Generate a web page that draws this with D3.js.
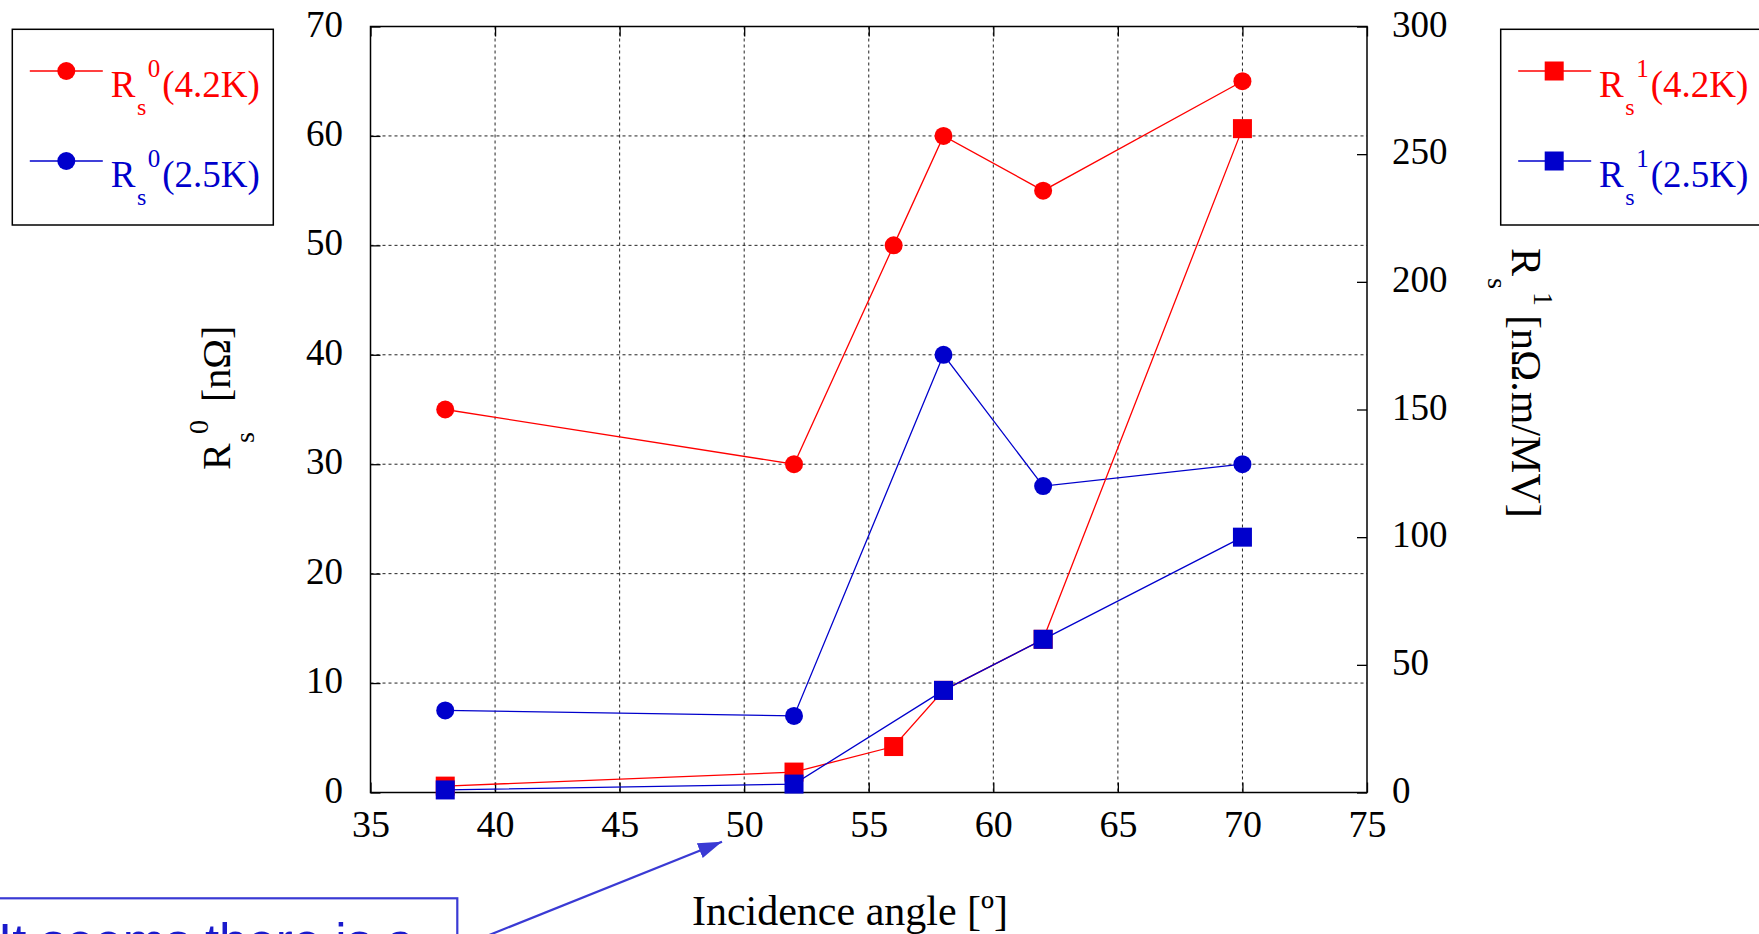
<!DOCTYPE html>
<html>
<head>
<meta charset="utf-8">
<script src="https://cdn.jsdelivr.net/npm/d3@7"></script>
<style>
  body { margin: 0; background: #fff; overflow: hidden; }
  svg { display: block; }
</style>
</head>
<body>
<script>
const width = 1759;
const height = 934;

// data
const angles_42 = [38, 52, 56, 58, 62, 70];
const angles_25 = [38, 52, 58, 62, 70];
const rs0_42 = [35, 30, 50, 60, 55, 65];
const rs0_25 = [7.5, 7, 40, 28, 30];
const rs1_42 = [2.5, 8, 18, 40, 60, 260];
const rs1_25 = [1, 3.3, 40, 60, 100];

const xTicks = [35, 40, 45, 50, 55, 60, 65, 70, 75];
const yLeftTicks = [0, 10, 20, 30, 40, 50, 60, 70];
const yRightTicks = [0, 50, 100, 150, 200, 250, 300];

const RED = '#ff0000';
const BLUE = '#0000cc';
const serif = '"Liberation Serif", "Times New Roman", serif';

const plotLeft = 370.5, plotRight = 1367, plotTop = 26.5, plotBottom = 792.5;

const x = d3.scaleLinear().domain([35, 75]).range([plotLeft, plotRight]);
const yL = d3.scaleLinear().domain([0, 70]).range([plotBottom, plotTop]);
const yR = d3.scaleLinear().domain([0, 300]).range([plotBottom, plotTop]);

const svg = d3.select('body')
    .append('svg')
    .attr('width', width)
    .attr('height', height)
    .style('font-family', serif);

// grid
const grid = svg.append('g')
    .attr('stroke', '#222')
    .attr('stroke-width', 1)
    .attr('stroke-dasharray', '3,3');

grid.selectAll('line.v')
    .data(xTicks.slice(1, -1))
    .join('line')
    .attr('class', 'v')
    .attr('x1', d => x(d)).attr('x2', d => x(d))
    .attr('y1', plotTop).attr('y2', plotBottom);

grid.selectAll('line.h')
    .data(yLeftTicks.slice(1, -1))
    .join('line')
    .attr('class', 'h')
    .attr('x1', plotLeft).attr('x2', plotRight)
    .attr('y1', d => yL(d)).attr('y2', d => yL(d));

// axes
function styleAxis(g, size) {
    g.select('.domain').remove();
    g.selectAll('.tick line').attr('stroke', '#000').attr('stroke-width', 1.3);
    g.selectAll('.tick text')
        .attr('fill', '#000')
        .style('font-family', serif)
        .style('font-size', size + 'px');
}

svg.append('g')
    .attr('transform', `translate(0,${plotBottom})`)
    .call(d3.axisBottom(x).tickValues(xTicks).tickSizeInner(-10).tickSizeOuter(0).tickPadding(17.5))
    .call(g => styleAxis(g, 38));

svg.append('g')
    .attr('transform', `translate(0,${plotTop})`)
    .call(d3.axisTop(x).tickValues(xTicks).tickSizeInner(-10).tickSizeOuter(0).tickFormat(''))
    .call(g => styleAxis(g, 38));

svg.append('g')
    .attr('transform', `translate(${plotLeft},0)`)
    .call(d3.axisLeft(yL).tickValues(yLeftTicks).tickSizeInner(-10).tickSizeOuter(0).tickPadding(27.5))
    .call(g => styleAxis(g, 37))
    .selectAll('.tick text').attr('dy', '0.26em');

svg.append('g')
    .attr('transform', `translate(${plotRight},0)`)
    .call(d3.axisRight(yR).tickValues(yRightTicks).tickSizeInner(-10).tickSizeOuter(0).tickPadding(25))
    .call(g => styleAxis(g, 37))
    .selectAll('.tick text').attr('dy', '0.26em');

// frame
svg.append('rect')
    .attr('x', plotLeft).attr('y', plotTop)
    .attr('width', plotRight - plotLeft).attr('height', plotBottom - plotTop)
    .attr('fill', 'none')
    .attr('stroke', '#000')
    .attr('stroke-width', 1.5);

// series
function drawSeries(xs, ys, yScale, color, shape) {
    const pts = xs.map((d, i) => [x(d), yScale(ys[i])]);
    svg.append('path')
        .attr('d', d3.line()(pts))
        .attr('fill', 'none')
        .attr('stroke', color)
        .attr('stroke-width', 1.3);
    const g = svg.append('g').attr('fill', color);
    if (shape === 'circle') {
        g.selectAll('circle').data(pts).join('circle')
            .attr('cx', d => d[0]).attr('cy', d => d[1]).attr('r', 9);
    } else {
        g.selectAll('rect').data(pts).join('rect')
            .attr('x', d => d[0] - 9.5).attr('y', d => d[1] - 9.5)
            .attr('width', 19).attr('height', 19);
    }
}

drawSeries(angles_42, rs0_42, yL, RED, 'circle');
drawSeries(angles_25, rs0_25, yL, BLUE, 'circle');
drawSeries(angles_42, rs1_42, yR, RED, 'square');
drawSeries(angles_25, rs1_25, yR, BLUE, 'square');

// legends
function legend(bx, bw, entries) {
    const g = svg.append('g');
    g.append('rect')
        .attr('x', bx).attr('y', 29.3)
        .attr('width', bw).attr('height', 195.7)
        .attr('fill', '#fff')
        .attr('stroke', '#000')
        .attr('stroke-width', 1.5);
    entries.forEach((e, i) => {
        const cy = 71 + i * 90;
        g.append('line')
            .attr('x1', bx + 17.5).attr('x2', bx + 90.5)
            .attr('y1', cy).attr('y2', cy)
            .attr('stroke', e.color).attr('stroke-width', 1.3);
        if (e.shape === 'circle') {
            g.append('circle').attr('cx', bx + 54).attr('cy', cy).attr('r', 9).attr('fill', e.color);
        } else {
            g.append('rect').attr('x', bx + 53.5 - 9.5).attr('y', cy - 9.5)
                .attr('width', 19).attr('height', 19).attr('fill', e.color);
        }
        const t = g.append('text')
            .attr('x', bx + 98.4).attr('y', cy + 25.7)
            .attr('fill', e.color)
            .style('font-size', '37px');
        t.append('tspan').text('R');
        t.append('tspan').attr('dx', 1.5).attr('dy', 18).style('font-size', '24px').text('s');
        t.append('tspan').attr('dx', 1.5).attr('dy', -38).style('font-size', '25px').text(e.sup);
        t.append('tspan').attr('dx', 2).attr('dy', 20).text(e.label);
    });
}

legend(12.3, 261, [
    { color: RED, shape: 'circle', sup: '0', label: '(4.2K)' },
    { color: BLUE, shape: 'circle', sup: '0', label: '(2.5K)' }
]);
legend(1500.7, 300, [
    { color: RED, shape: 'square', sup: '1', label: '(4.2K)' },
    { color: BLUE, shape: 'square', sup: '1', label: '(2.5K)' }
]);

// axis titles
function axisTitle(tx, ty, rot, sup, unit, pos, size) {
    const t = svg.append('text')
        .attr('transform', `translate(${tx},${ty}) rotate(${rot})`)
        .attr('fill', '#000')
        .style('font-size', size + 'px');
    t.append('tspan').attr('x', 0).attr('y', 0).text('R');
    t.append('tspan').attr('x', pos[0]).attr('y', 24).style('font-size', '28px').text('s');
    t.append('tspan').attr('x', pos[1]).attr('y', -22).style('font-size', '28px').text(sup);
    t.append('tspan').attr('x', pos[2]).attr('y', 0).text(unit);
}

axisTitle(230, 470, -90, '0', '[nΩ]', [27, 36, 68], 40);
axisTitle(1512, 248, 90, '1', '[nΩ.m/MV]', [30, 44, 67], 42);

svg.append('text')
    .attr('x', 850).attr('y', 925)
    .attr('text-anchor', 'middle')
    .attr('fill', '#000')
    .style('font-size', '42px')
    .text('Incidence angle [º]');

// annotation box + arrow
svg.append('defs').append('marker')
    .attr('id', 'head')
    .attr('markerUnits', 'userSpaceOnUse')
    .attr('markerWidth', 26).attr('markerHeight', 18)
    .attr('refX', 24).attr('refY', 8)
    .attr('orient', 'auto')
    .append('path')
    .attr('d', 'M0,0 L24,8 L0,16 Z')
    .attr('fill', '#3a3ad4');

svg.append('line')
    .attr('x1', 377).attr('y1', 980)
    .attr('x2', 722).attr('y2', 841.7)
    .attr('stroke', '#3a3ad4')
    .attr('stroke-width', 2.2)
    .attr('marker-end', 'url(#head)');

svg.append('rect')
    .attr('x', -10).attr('y', 898.3)
    .attr('width', 467.3).attr('height', 120)
    .attr('fill', '#fff')
    .attr('stroke', '#3a3ad4')
    .attr('stroke-width', 2.2);

// the reference photo cuts this note off at the bottom edge
svg.append('text')
    .attr('x', -2).attr('y', 960)
    .attr('fill', '#1a1acc')
    .style('font-family', '"Liberation Sans", Arial, sans-serif')
    .style('font-size', '51px')
    .text('It seems there is a');
</script>
</body>
</html>
